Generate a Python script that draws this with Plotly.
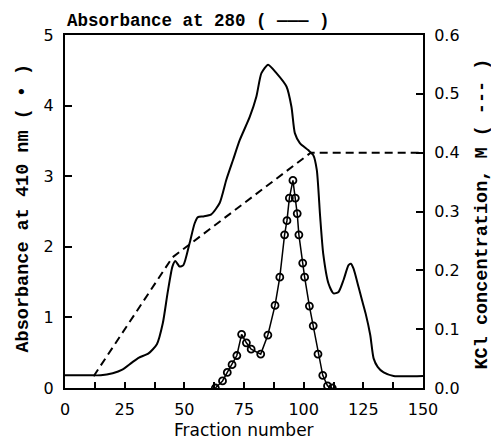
import plotly.graph_objects as go

# Absorbance at 280 (solid line)
a280_x = [0, 10, 15, 20, 24, 28, 31, 35, 38.5, 41, 43, 45, 46.2, 48, 49.6, 52.2, 54.3, 55.7,
          58, 61.3, 64.8, 67.6, 70.4, 73.2, 77.4, 80.2, 82.3, 85.1, 88.6, 92.8, 94.9, 96.3,
          98.4, 101.9, 104, 105.5, 106.9, 108.2, 110.4, 112.5, 114.6, 116.7, 118.8, 119.8,
          120.9, 123, 124.4, 126, 127.9, 129.3, 131, 133.5, 137.7, 150]
a280_y = [0.18, 0.18, 0.18, 0.21, 0.26, 0.36, 0.43, 0.49, 0.62, 0.92, 1.35, 1.72, 1.80, 1.72,
          1.74, 2.05, 2.33, 2.42, 2.43, 2.46, 2.62, 2.95, 3.23, 3.51, 3.84, 4.13, 4.46, 4.58,
          4.46, 4.27, 3.98, 3.61, 3.47, 3.37, 3.30, 3.09, 2.43, 1.90, 1.48, 1.34, 1.36, 1.53,
          1.74, 1.76, 1.69, 1.43, 1.25, 1.05, 0.75, 0.42, 0.30, 0.22, 0.17, 0.17]

# Absorbance at 410 (circles)
a410_x = [63, 66, 68, 70, 72, 74, 76, 78, 82, 85, 88, 90, 92, 93, 94, 95.5, 96.5, 97.3, 98,
          99.6, 100.4, 102.4, 104, 106, 108, 110, 112]
a410_y = [0.0, 0.10, 0.22, 0.33, 0.46, 0.76, 0.64, 0.55, 0.48, 0.75, 1.17, 1.57, 2.17, 2.37,
          2.69, 2.94, 2.69, 2.47, 2.17, 1.77, 1.57, 1.16, 0.88, 0.48, 0.18, 0.03, 0.0]

# KCl gradient (dashed)
kcl_x = [12, 45, 103, 150]
kcl_y = [0.02, 0.222, 0.40, 0.40]

x_ticks = [0, 25, 50, 75, 100, 125, 150]
y_ticks = [0, 1, 2, 3, 4, 5]
y2_ticks = [0.0, 0.1, 0.2, 0.3, 0.4, 0.5, 0.6]

fig = go.Figure()
fig.add_trace(go.Scatter(x=a280_x, y=a280_y, mode="lines",
                         line=dict(color="black", width=2, shape="spline", smoothing=0.6)))
fig.add_trace(go.Scatter(x=kcl_x, y=kcl_y, mode="lines", yaxis="y2",
                         line=dict(color="black", width=2, dash="8px,5px")))
fig.add_trace(go.Scatter(x=a410_x, y=a410_y, mode="lines+markers",
                         line=dict(color="black", width=1.5),
                         marker=dict(symbol="circle-open", size=7, color="black",
                                     line=dict(width=1.8, color="black"))))

tickfont = dict(family="DejaVu Sans", size=16, color="black")
monofont = dict(family="Liberation Mono", size=17.5, color="black", weight="bold")
sidefont = dict(family="Liberation Mono", size=18.5, color="black", weight="bold")

fig.update_layout(
    width=491, height=447,
    margin=dict(l=65, r=68, t=35, b=59),
    plot_bgcolor="white", paper_bgcolor="white",
    showlegend=False,
    xaxis=dict(range=[0, 150], tickvals=x_ticks, ticks="inside", ticklen=6, tickwidth=1.5,
               tickcolor="black", showline=True, linecolor="black", linewidth=2,
               mirror=True, showgrid=False, zeroline=False, tickfont=tickfont,
               minor=dict(dtick=12.5, ticks="inside", ticklen=6, tickwidth=1.5,
                          tickcolor="black", showgrid=False),
               ticklabelstandoff=6),
    yaxis=dict(range=[0, 5], tickvals=y_ticks, ticks="inside", ticklen=7, tickwidth=1.5,
               tickcolor="black", showline=True, linecolor="black", linewidth=2,
               showgrid=False, zeroline=False, tickfont=tickfont, ticklabelstandoff=6),
    yaxis2=dict(range=[0, 0.6], tickvals=y2_ticks, tickformat=".1f", overlaying="y",
                side="right", ticks="inside", ticklen=7, tickwidth=1.5, tickcolor="black",
                showline=True, linecolor="black", linewidth=2, showgrid=False,
                zeroline=False, tickfont=tickfont, ticklabelstandoff=6),
)

fig.add_annotation(text="Absorbance at 280 ( \u2014\u2014\u2014 )", xref="paper", yref="paper",
                   x=0, y=1, xanchor="left", yanchor="middle", yshift=14, showarrow=False,
                   font=monofont)
fig.add_annotation(text="Absorbance at 410 nm ( \u2022 )", xref="paper", yref="paper",
                   x=0, y=0.5, xanchor="center", yanchor="middle", xshift=-42, yshift=3,
                   textangle=-90, showarrow=False, font=sidefont)
fig.add_annotation(text="KCl concentration, M ( --- )", xref="paper", yref="paper",
                   x=1, y=0.5, xanchor="center", yanchor="middle", xshift=59, yshift=-3,
                   textangle=-90, showarrow=False, font=sidefont)
fig.add_annotation(text="Fraction number", xref="paper", yref="paper",
                   x=0.5, y=0, xanchor="center", yanchor="middle", yshift=-42,
                   showarrow=False, font=dict(family="DejaVu Sans", size=17, color="black"))

# remove the default 8px page margin so the figure sits at the window's top-left corner
fig.write_html("out.html", config={"displayModeBar": False},
               post_script="document.body.style.margin='0';document.body.style.overflow='hidden';")
